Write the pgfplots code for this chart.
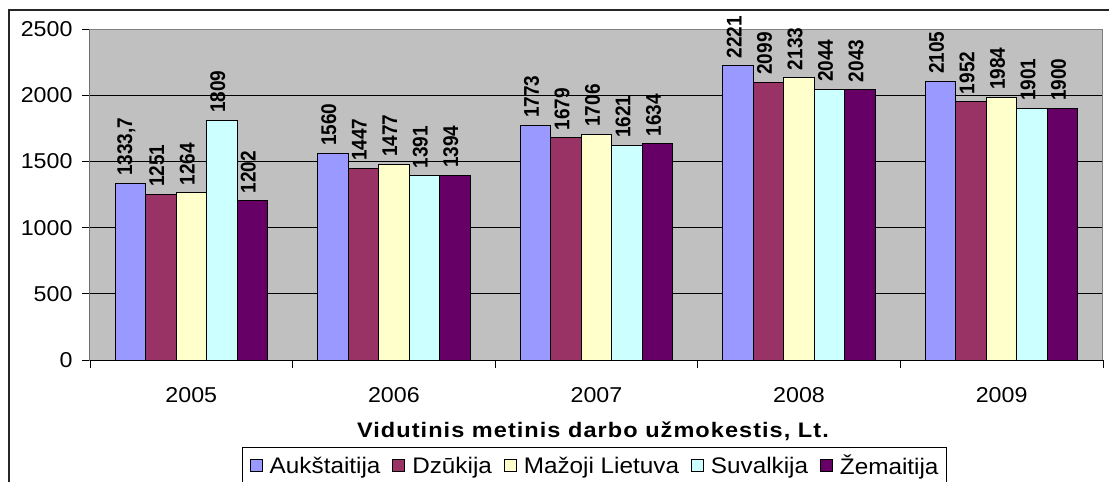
\documentclass[border=0pt]{standalone}
\usepackage{fontspec}
\setmainfont{Liberation Sans}
\newfontfamily\wide[FakeStretch=1.08]{Liberation Sans}
\newfontfamily\legfont[FakeStretch=1.08]{Liberation Sans}
\newfontfamily\titlefont[FakeStretch=1.12,LetterSpace=5]{Liberation Sans}
\usepackage{graphicx}
\usepackage{pgfplots}
\pgfplotsset{compat=1.18}
\definecolor{cA}{HTML}{9999FF}
\definecolor{cB}{HTML}{993366}
\definecolor{cC}{HTML}{FFFFCC}
\definecolor{cD}{HTML}{CCFFFF}
\definecolor{cE}{HTML}{660066}
\definecolor{bg}{HTML}{C0C0C0}
\definecolor{frm}{HTML}{808080}
\begin{document}
\begin{tikzpicture}
\path[use as bounding box] (-90pt,-122pt) rectangle (1019pt,360pt);
\draw[line width=1.6pt, black!85] (-81pt,-160pt) rectangle (1040pt,350pt);
\begin{axis}[
  scale only axis, width=1013pt, height=331pt,
  at={(0pt,0pt)}, anchor=south west,
  xmin=-0.5, xmax=4.5, ymin=0, ymax=2500,
  ytick={0,500,...,2500},
  xtick={-0.5,0.5,...,4.5}, xticklabels={,,,,,},
  extra x ticks={0,1,2,3,4},
  extra x tick labels={2005,2006,2007,2008,2009},
  extra x tick style={major tick length=0pt},
  xtick pos=bottom, ytick pos=left,
  tick align=outside, major tick length=8pt,
  tick style={black, line width=0.8pt},
  /pgf/number format/.cd, assume math mode=true, use comma, 1000 sep={},
  /pgfplots/.cd,
  ticklabel style={font=\wide\fontsize{21.5}{22}\selectfont},
  yticklabel style={xshift=-6pt},
  xticklabel style={yshift=-24pt},
  ymajorgrids, major grid style={black, line width=0.7pt},
  axis line style={draw=frm, line width=1pt},
  axis background/.style={fill=bg},
  ybar=0pt, bar width=30.5pt,
  xlabel={Vidutinis metinis darbo užmokestis, Lt.},
  xlabel style={at={(axis description cs:0.4965,-0.2145)}, anchor=center,
    font=\titlefont\bfseries\fontsize{21}{22}\selectfont},
  every node near coord/.append style={font=\bfseries\fontsize{19}{19}\selectfont,
    xshift=-4pt, rotate=90, anchor=west, inner xsep=7pt, inner ysep=0pt, black},
  nodes near coords={\scalebox{1}[1.12]{\pgfmathprintnumber{\pgfplotspointmeta}}},
  legend columns=5,
  legend style={at={(axis description cs:0.1500,-0.2630)}, anchor=north west,
    draw=black, line width=0.8pt, fill=white, outer sep=0pt,
    font=\legfont\fontsize{22.5}{23}\selectfont,
    inner xsep=8pt, inner ysep=6pt,
    nodes={inner xsep=0pt, inner ysep=2pt},
    cells={anchor=west},
    /tikz/every odd column/.append style={column sep=7pt},
    /tikz/every even column/.append style={column sep=12pt}},
  legend image code/.code={\draw[#1,draw=black,line width=0.8pt] (0pt,-6pt) rectangle (12pt,6pt);},
]
\addplot[fill=cA, draw=black, line width=1pt] coordinates {(0,1333.7) (1,1560) (2,1773) (3,2221) (4,2105)};
\addplot[fill=cB, draw=black, line width=1pt] coordinates {(0,1251) (1,1447) (2,1679) (3,2099) (4,1952)};
\addplot[fill=cC, draw=black, line width=1pt] coordinates {(0,1264) (1,1477) (2,1706) (3,2133) (4,1984)};
\addplot[fill=cD, draw=black, line width=1pt] coordinates {(0,1809) (1,1391) (2,1621) (3,2044) (4,1901)};
\addplot[fill=cE, draw=black, line width=1pt] coordinates {(0,1202) (1,1394) (2,1634) (3,2043) (4,1900)};
\legend{Aukštaitija, Dzūkija, Mažoji Lietuva, Suvalkija, Žemaitija}
\draw[black, line width=1pt] (rel axis cs:0,1) -- (rel axis cs:0,0) -- (rel axis cs:1,0);
\end{axis}
\end{tikzpicture}
\end{document}
